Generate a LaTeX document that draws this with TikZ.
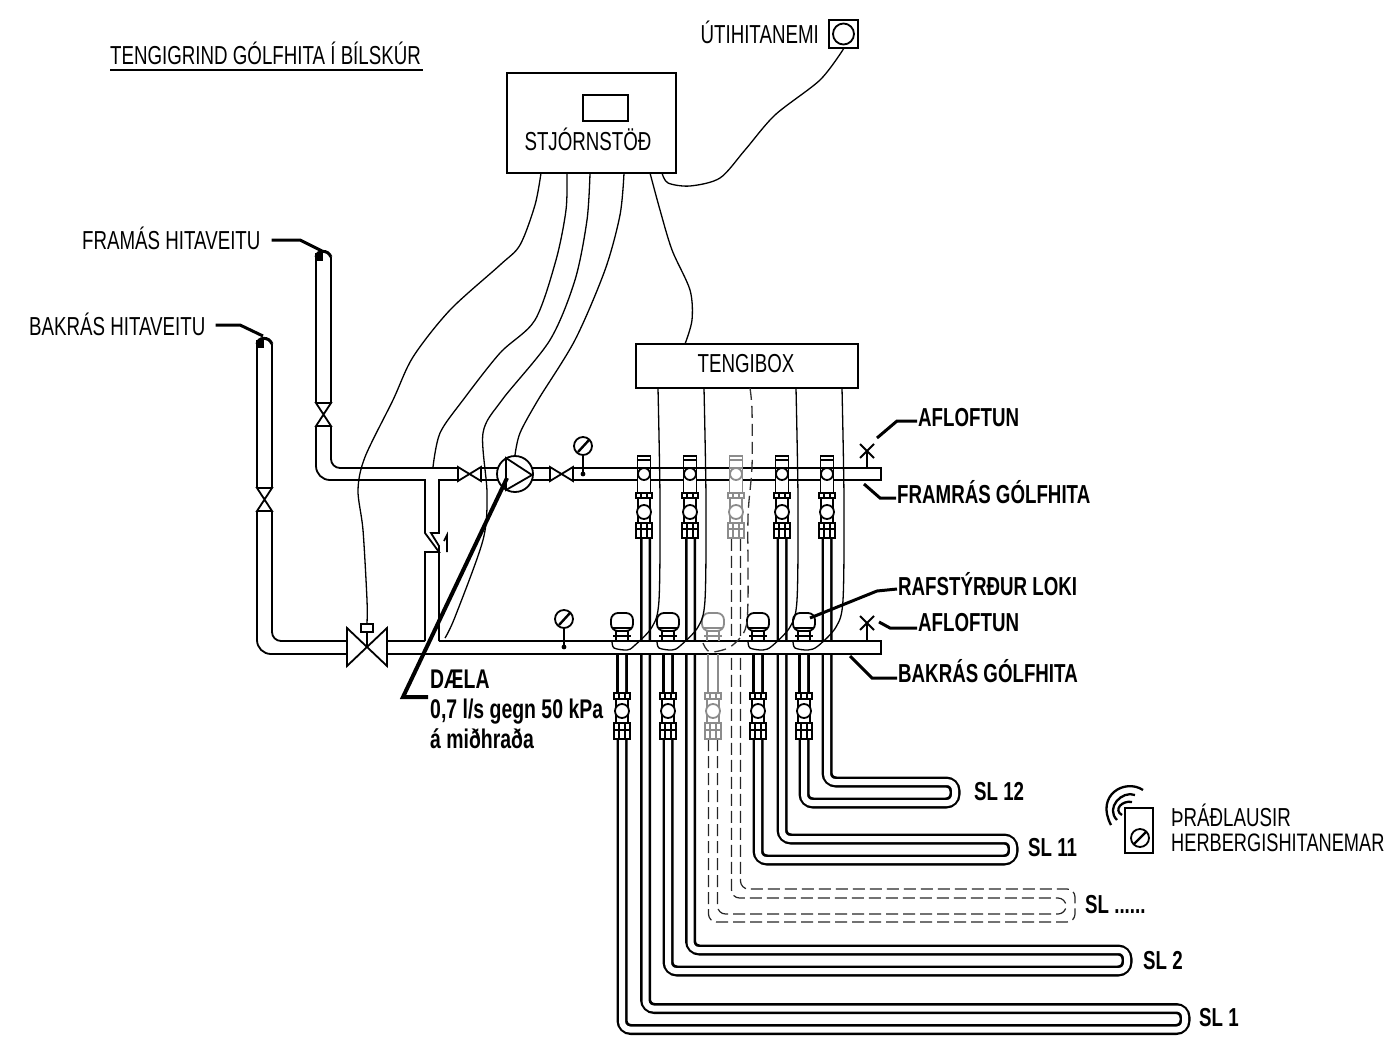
\documentclass[tikz,border=0pt]{standalone}
\usepackage{fontspec}
\setmainfont[FakeStretch=0.72]{Liberation Sans}
\usetikzlibrary{calc,positioning}

\tikzset{
    lab/.style={inner sep=1pt, font=\fontsize{26}{30}\selectfont},
    labb/.style={inner sep=1pt, font=\fontsize{26}{30}\selectfont\bfseries},
    pipe/.style={line width=1.8pt, draw=black},
    thin wire/.style={line width=1.3pt, draw=black},
    leader/.style={line width=3pt, draw=black},
}

\begin{document}
\begin{tikzpicture}[x=1pt,y=-1pt]
    \useasboundingbox (0,0) rectangle (1386,1036);

    % Floor loops, drawn thick in black and then thin in white
    \foreach \a/\b/\ya/\yb/\xr in {622/645.5/1029.5/1008.5/1185,668/690.5/971/950/1127,758/782/860/839/1013,804/827/803/782/955} {
        \draw[line width=11pt, rounded corners=9pt] (\a,654) -- (\a,\ya) -- (\xr,\ya) -- (\xr,\yb) -- (\b,\yb) -- (\b,530);
        \draw[line width=6pt, white, rounded corners=8pt] (\a,654) -- (\a,\ya) -- (\xr,\ya) -- (\xr,\yb) -- (\b,\yb) -- (\b,530);
    }
    % The dashed loop
    \begin{scope}[line width=1.2pt, dash pattern=on 12pt off 5pt, draw=black!85, rounded corners=8pt]
        \draw (708.5,739) -- (708.5,922) -- (1075,922) -- (1075,889) -- (740.5,889) -- (740.5,538);
        \draw (717.5,739) -- (717.5,914) -- (1066,914) -- (1066,898) -- (731.5,898) -- (731.5,538);
    \end{scope}

    % Framras pipe
    \draw[pipe, rounded corners=9pt] (458,468) -- (331,468) -- (331,426);
    \draw[pipe, rounded corners=14pt] (316,426) -- (316,480) -- (380,480);
    \draw[pipe] (380,480) -- (425,480) -- (425,533) -- (439,552) -- (425,552) -- (425,641);
    \draw[pipe] (458,480) -- (439,480) -- (439,533) -- (431,533) -- (439,546) -- (439,552) -- (439,641);
    \draw[pipe] (481,468) -- (500,468) (481,480) -- (500,480);
    \draw[pipe] (530,468) -- (550,468) (530,480) -- (550,480);
    \draw[pipe, fill=white] (573,468) rectangle (881,480);

    % Stand pipes from the district heating
    \draw[pipe] (316,403) -- (316,257) (331,257) -- (331,403);
    \draw[line width=3pt] (316,257) .. controls (317,250) and (328,249) .. (331,257);
    \fill (315,253) rectangle (323,261);
    \draw[pipe] (257,488) -- (257,344) (272,344) -- (272,488);
    \draw[line width=3pt] (257,344) .. controls (258,337) and (269,336) .. (272,344);
    \fill (256,340) rectangle (264,348);
    \draw[pipe, rounded corners=14pt] (257,511) -- (257,654) -- (347,654);
    \draw[pipe, rounded corners=9pt] (272,511) -- (272,641) -- (347,641);
    \draw[pipe] (387,654) -- (881,654) -- (881,641) -- (439,641);
    \draw[pipe] (387,641) -- (425,641);
    \fill[white] (441,642) rectangle (880,653);
    \fill[white] (426,642) rectangle (441,653);

    % Small valves, standing and lying
    \foreach \y in {403,488} {
        \pgfmathsetmacro{\xa}{\y==403 ? 316 : 257}
        \draw[pipe, fill=white] (\xa,\y) -- (\xa+15,\y+23) -- (\xa,\y+23) -- (\xa+15,\y) -- cycle;
    }
    \foreach \x in {458,550} {
        \draw[pipe, fill=white] (\x,467) -- (\x+23,481) -- (\x+23,467) -- (\x,481) -- cycle;
    }
    % Motor valve
    \draw[pipe, fill=white] (347,628) -- (387,666) -- (387,628) -- (347,666) -- cycle;
    \node[draw, pipe, fill=white, minimum width=12pt, minimum height=8pt, inner sep=0pt] (stell) at (367,628) {};
    \draw[pipe] (stell.south) -- (367,647);

    % Non return valve arrow
    \draw[line width=1.6pt] (447,552) -- (447,535) -- (444,541);

    % Pump
    \node[draw, pipe, circle, fill=white, minimum size=36pt, inner sep=0pt] (daela) at (515,474) {};
    \draw[pipe] (506,458) -- (532,475) -- (506,490) -- cycle;

    % Gauges
    \foreach \x/\y in {583/446,564/619} {
        \draw[pipe] (\x,\y) circle (9pt);
        \draw[line width=2.4pt] (\x-5,\y+6) -- (\x+6,\y-6);
        \draw[pipe] (\x,\y+9) -- (\x,\y+28);
        \fill (\x,\y+28) circle (2.4pt);
    }

    % Air vents
    \foreach \y in {451,623} {
        \draw[pipe] (867,\y+17) -- (867,\y) (860,\y-7) -- (874,\y+7) (874,\y-7) -- (860,\y+7);
    }

    % Fittings on the framras pipe
    \foreach \x/\c in {644/black,690/black,736/black!45,782/black,827/black} {
        \begin{scope}[line width=1.8pt, draw=\c]
            \draw[fill=white] (\x-6.5,456) rectangle (\x+6.5,468);
            \draw[fill=white] (\x-6.5,468) rectangle (\x+6.5,493);
            \draw[fill=white] (\x,474) circle (6pt);
            \draw[fill=white] (\x-8,493) rectangle (\x+8,498);
            \draw (\x-3,493) -- (\x-3,498) (\x+3,493) -- (\x+3,498);
            \draw[fill=white] (\x-6,498) rectangle (\x+6,523);
            \draw[fill=white] (\x,512) circle (7pt);
            \draw[fill=white] (\x-8,523) rectangle (\x+8,529);
            \draw[fill=white] (\x-8,529) rectangle (\x+8,538);
            \draw (\x-3,523) -- (\x-3,538) (\x+3,523) -- (\x+3,538);
            \draw (\x-6.5,460) -- (\x+6.5,460);
        \end{scope}
    }

    % Fittings under the bakras pipe
    \foreach \x/\c in {622/black,668/black,713/black!45,758/black,804/black} {
        \begin{scope}[line width=1.8pt, draw=\c]
            \draw (\x-5,654) -- (\x-5,693) (\x+5,654) -- (\x+5,693);
            \draw[fill=white] (\x-8,693) rectangle (\x+8,699);
            \draw (\x-3,693) -- (\x-3,699) (\x+3,693) -- (\x+3,699);
            \draw[fill=white] (\x-6,699) rectangle (\x+6,723);
            \draw[fill=white] (\x,711) circle (7pt);
            \draw[fill=white] (\x-8,723) rectangle (\x+8,730);
            \draw[fill=white] (\x-8,730) rectangle (\x+8,739);
            \draw (\x-3,723) -- (\x-3,739) (\x+3,723) -- (\x+3,739);
            % Actuator head on top of the pipe
            \draw[fill=white, rounded corners=7pt] (\x-11,631) -- (\x-11,613) -- (\x+11,613) -- (\x+11,631) -- cycle;
            \draw (\x-10,628) -- (\x+10,628);
            \draw (\x-6,631) -- (\x-6,641) (\x+6,631) -- (\x+6,641);
            \draw (\x-9,636) -- (\x+9,636);
        \end{scope}
    }

    % Boxes and their texts
    \node[draw, pipe, minimum width=169pt, minimum height=100pt, inner sep=0pt] (stod) at (591.5,123) {};
    \node[draw, pipe, minimum width=45pt, minimum height=26pt, inner sep=0pt] (skjar) at (605.5,108) {};
    \node[lab] (stodtxt) at (588,139) {STJÓRNSTÖÐ};
    \node[draw, pipe, fill=white, minimum width=222pt, minimum height=44pt, inner sep=0pt] (tengibox) at (747,366) {};
    \node[lab] (tengitxt) at (746,364) {TENGIBOX};
    \node[draw, pipe, minimum width=29pt, minimum height=28pt, inner sep=0pt] (uti) at (843.5,34) {};
    \node[draw, pipe, circle, minimum size=21pt, inner sep=0pt] (utirond) at (843.5,34) {};

    % Wires from the controller
    \coordinate (wa) at (541,173);
    \coordinate (wb) at (567,173);
    \coordinate (wc) at (590,173);
    \coordinate (wd) at (624,173);
    \coordinate (we) at (650,173);
    \coordinate (wf) at (662,173);
    \coordinate (we2) at (685,344);
    \begin{scope}[thin wire]
        \draw plot[smooth] coordinates {(wa) (535,205) (520,245) (500,265) (450,310) (413,357) (393,400) (365,457) (358,490) (363,530) (367,600) (stell.north)};
        \draw plot[smooth] coordinates {(wb) (566,210) (556,260) (535,320) (500,353) (463,400) (440,433) (433,467)};
        \draw plot[smooth] coordinates {(wc) (587,220) (575,280) (550,340) (502,400) (483,433) (487,493) (483,540) (455,617) (445,638)};
        \draw plot[smooth] coordinates {(wd) (620,215) (605,270) (575,340) (538,400) (520,433) (daela.north)};
        \draw plot[smooth] coordinates {(we) (660,210) (672,250) (690,290) (692,320) (we2)};
        \draw plot[smooth] coordinates {(wf) (668,183) (690,186) (720,178) (745,150) (775,115) (820,80) (uti.south)};
        % Wires from the box down to the heads
        \foreach \x/\h in {658/622,704/667,796/758,842/803} {
            \draw plot[smooth] coordinates {(\x,388) (\x+2,500) (\x+1,600) (\x-6,627) (\x-24,646) (\h+5,650) (\h-8,648) (\h-10,641)};
        }
    \end{scope}
    \draw[thin wire, dash pattern=on 12pt off 6pt, draw=black!80] plot[smooth] coordinates {(750,388) (752,410) (752,467) (748,517) (748,600) (745,630) (730,647) (710,652) (703,643)};

    % Title
    \node[lab, anchor=west] (titill) at (109,53) {TENGIGRIND GÓLFHITA Í BÍLSKÚR};
    \draw[pipe] (110,70) -- (423,70);

    % Labels
    \node[lab, anchor=east] (utitxt) at (820,32) {ÚTIHITANEMI};
    \node[lab, anchor=west] (framas) at (81,238) {FRAMÁS HITAVEITU};
    \node[lab, anchor=west] (bakras) at (28,324) {BAKRÁS HITAVEITU};
    \node[labb, anchor=west] (afla) at (917,418) {AFLOFTUN};
    \node[labb, anchor=west] (framg) at (896,492) {FRAMRÁS GÓLFHITA};
    \node[labb, anchor=west] (loki) at (897,584) {RAFSTÝRÐUR LOKI};
    \node[labb, anchor=west] (aflb) at (917,623) {AFLOFTUN};
    \node[labb, anchor=west] (bakg) at (897,671) {BAKRÁS GÓLFHITA};
    \node[anchor=north west, align=left, inner sep=0pt, font=\fontsize{27}{30}\selectfont\bfseries] (daelatxt) at (430,670) {DÆLA\\0,7 l/s gegn 50 kPa\\á miðhraða};

    \node[labb, anchor=west] (sla) at (973,792) {SL 12};
    \node[labb, anchor=west] (slb) at (1027,848) {SL 11};
    \node[labb, anchor=west] (slc) at (1084,905) {SL ......};
    \node[labb, anchor=west] (sld) at (1142,961) {SL 2};
    \node[labb, anchor=west] (sle) at (1198,1018) {SL 1};

    % Leaders
    \draw[leader] (framas.east) ++(10,2) -- (300,240) -- (322,251);
    \draw[leader] (bakras.east) ++(9,1) -- (240,325) -- (263,336);
    \draw[leader] (afla.west) ++(0,3) -- (897,421) -- (877,438);
    \draw[leader] (framg.west) ++(0,6) -- (880,498) -- (864,484);
    \draw[leader] (loki.west) ++(0,5) -- (877,591) -- (810,618);
    \draw[leader] (aflb.west) ++(0,5) -- (890,628) -- (879,622);
    \draw[leader] (bakg.west) ++(0,7) -- (872,678) -- (850,656);
    \draw[line width=4pt] (428,697) -- (403,697) -- (507,478);

    % Wireless room sensor
    \node[draw, pipe, minimum width=28pt, minimum height=45pt, inner sep=0pt] (nemi) at (1139,830.5) {};
    \node[draw, pipe, circle, minimum size=18pt, inner sep=0pt] (nemirond) at (1140,838) {};
    \draw[line width=2.4pt] (1134,844) -- (1146,832);
    \draw[line width=2.3pt] (1143,790) .. controls (1125,778) and (1095,795) .. (1111,825);
    \draw[line width=2.3pt] (1135,795) .. controls (1122,790) and (1105,808) .. (1117,820);
    \draw[line width=2.3pt] (1132,802) .. controls (1122,800) and (1113,810) .. (1122,815);
    \node[lab, anchor=west] (tradl) at (1170,815) {ÞRÁÐLAUSIR};
    \node[lab, anchor=west, font=\fontsize{25.3}{30}\selectfont] (herb) at (1170,843) {HERBERGISHITANEMAR};
\end{tikzpicture}
\end{document}
